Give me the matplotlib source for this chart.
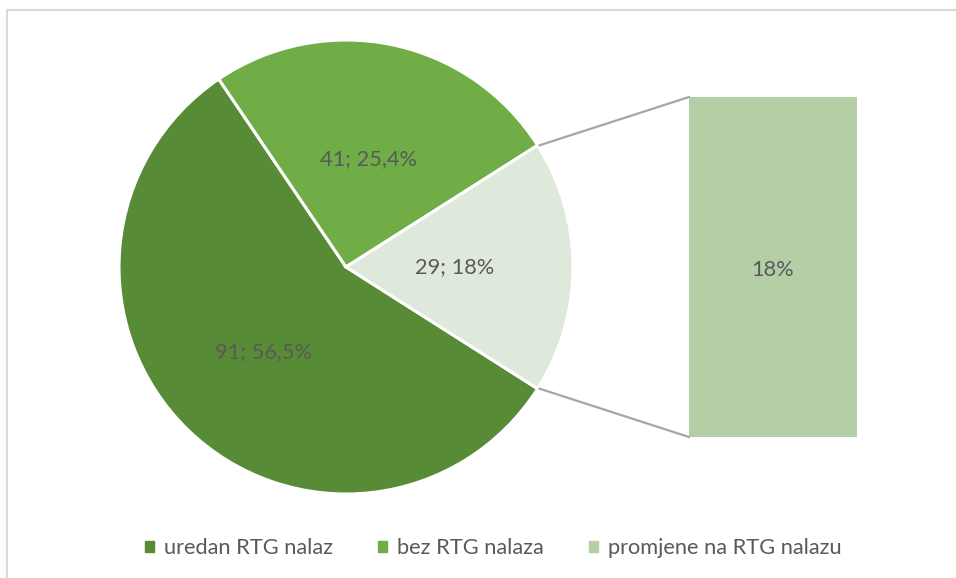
import numpy as np
import matplotlib
matplotlib.use("Agg")
import matplotlib.pyplot as plt
import matplotlib.patches as patches

# data
categories = ["uredan RTG nalaz", "bez RTG nalaza", "promjene na RTG nalazu"]
counts = [91, 41, 29]
pie_labels = ["91; 56,5%", "41; 25,4%", "29; 18%"]
bar_label = "18%"

colors = ["#588B36", "#70AD47", "#DFE9DB"]
bar_color = "#B4CFA6"
text_color = "#595959"
line_color = "#A6A6A6"

plt.rcParams['font.family'] = ['Lato', 'DejaVu Sans']
fs = 15.7

W, H = 956, 578
fig = plt.figure(figsize=(W / 100, H / 100), dpi=100)
ax = fig.add_axes([0, 0, 1, 1])
ax.set_xlim(0, W)
ax.set_ylim(0, H)
ax.axis('off')

# pie geometry (pixels, y up)
cx, cy, r = 346, 311, 227
share_last = counts[-1] / sum(counts)
start = -share_last * 180

wedges, _ = ax.pie(counts, colors=colors, startangle=start, counterclock=False,
                   center=(cx, cy), radius=r,
                   wedgeprops=dict(edgecolor='white', linewidth=2.2))
ax.set_aspect('equal')
ax.set_xlim(0, W)
ax.set_ylim(0, H)

label_dist = [0.52, 0.485, 0.48]
for w, lab, d in zip(wedges, pie_labels, label_dist):
    mid = np.deg2rad((w.theta1 + w.theta2) / 2)
    ax.text(cx + d * r * np.cos(mid), cy + d * r * np.sin(mid), lab,
            ha='center', va='center', fontsize=fs, color=text_color)

# bar of pie
bx0, bx1, by0, by1 = 689, 857, 141, 481
ax.bar((bx0 + bx1) / 2, by1 - by0, width=bx1 - bx0, bottom=by0, color=bar_color)
ax.text((bx0 + bx1) / 2, 308, bar_label, ha='center', va='center',
        fontsize=fs, color=text_color)

# connector lines
half = np.deg2rad(share_last * 180)
px, py = cx + r * np.cos(half), cy + r * np.sin(half)
ax.plot([px + 2, bx0], [py, by1], color=line_color, lw=1.6)
ax.plot([px + 2, bx0], [2 * cy - py, by0], color=line_color, lw=1.6)

# chart frame (only top and left visible)
frame = patches.Rectangle((7.5, -20), 1100, H - 9.5 + 20, fill=False,
                          edgecolor='#D9D9D9', linewidth=1.5)
ax.add_patch(frame)

handles = [patches.Patch(color=c) for c in colors[:2] + [bar_color]]
fig.legend(handles, categories, loc='center', bbox_to_anchor=(0.516, 0.052),
           ncol=3, frameon=False, fontsize=fs, labelcolor=text_color,
           handlelength=0.4, handleheight=0.4, handletextpad=0.45,
           columnspacing=2.1)

fig.savefig("out.png", dpi=100)
